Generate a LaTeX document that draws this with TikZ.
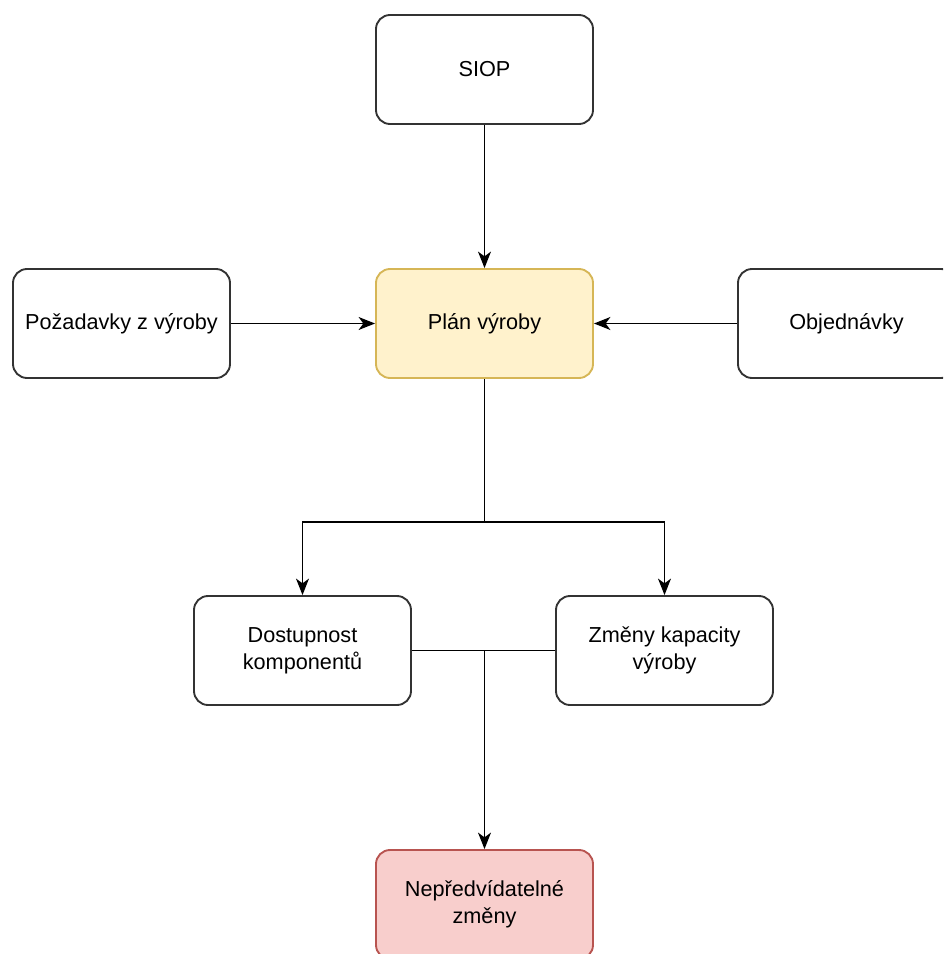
\documentclass[tikz,border=0pt]{standalone}
\usepackage{fontspec}
\setmainfont{Liberation Sans}
\usepackage{tikz}
\usetikzlibrary{arrows.meta, positioning}

\definecolor{planfill}{HTML}{FFF2CC}
\definecolor{plandraw}{HTML}{D6B656}
\definecolor{zmenafill}{HTML}{F8CECC}
\definecolor{zmenadraw}{HTML}{B85450}

\begin{document}
\begin{tikzpicture}[x=0.03cm, y=-0.03cm,
    box/.style={draw=black!80, line width=1.6pt, rounded corners=12pt, fill=white,
        minimum width=6.51cm, minimum height=3.27cm, inner sep=0pt, align=center,
        font=\fontsize{18.5}{23}\selectfont},
    link/.style={line width=1.6pt},
    >={Stealth[length=14pt, width=11pt, inset=4pt]}]
    % Frame of the picture
    \clip (0,0) rectangle (943,954);

    % Boxes
    \node[box] (siop) at (484.5,69.5) {SIOP};
    \node[box, fill=planfill, draw=plandraw] (plan) at (484.5,323.5) {Plán výroby};
    \node[box] (pozadavky) at (121.5,323.5) {Požadavky z výroby};
    \node[box] (objednavky) at (846.5,323.5) {Objednávky};
    \node[box] (dostupnost) at (302.5,650.5) {Dostupnost\\komponentů};
    \node[box] (zmeny) at (664.5,650.5) {Změny kapacity\\výroby};
    \node[box, fill=zmenafill, draw=zmenadraw] (nepredvidatelne) at (484.5,904.5) {Nepředvídatelné\\změny};

    % Inputs into the plan
    \draw[link, ->] (siop) -- (plan);
    \draw[link, ->] (pozadavky) -- (plan);
    \draw[link, ->] (objednavky) -- (plan);

    % Split below the plan
    \coordinate (split) at (484.5,522);
    \draw[link] (plan) -- (split);
    \draw[link, ->] (split) -| (dostupnost);
    \draw[link, ->] (split) -| (zmeny);

    % Merge into the unforeseen changes
    \coordinate (merge) at (484.5,650.5);
    \draw[link] (dostupnost) -- (merge);
    \draw[link] (zmeny) -- (merge);
    \draw[link, ->] (merge) -- (nepredvidatelne);
\end{tikzpicture}
\end{document}
